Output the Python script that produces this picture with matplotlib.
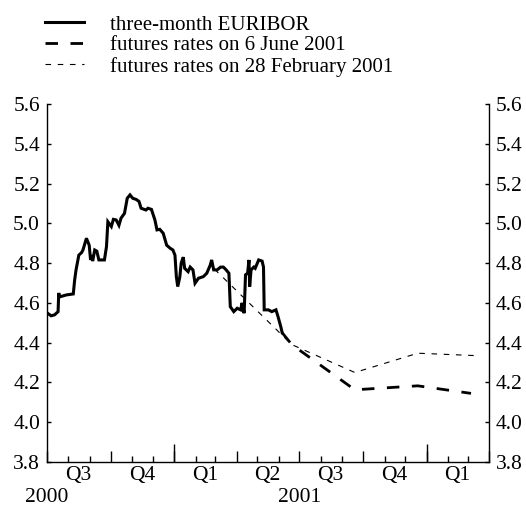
import numpy as np
import pandas as pd
import matplotlib
matplotlib.use("Agg")
import matplotlib.pyplot as plt
import matplotlib.dates as mdates

# three-month EURIBOR
euribor_dates = [
    "2000-07-01", "2000-07-07", "2000-07-12", "2000-07-17", "2000-07-18", "2000-07-19",
    "2000-07-24", "2000-07-29", "2000-08-08", "2000-08-10", "2000-08-12", "2000-08-16",
    "2000-08-20", "2000-08-22", "2000-08-27", "2000-08-31", "2000-09-02", "2000-09-04",
    "2000-09-05", "2000-09-08", "2000-09-11", "2000-09-14", "2000-09-22", "2000-09-25",
    "2000-09-27", "2000-10-02", "2000-10-05", "2000-10-09", "2000-10-13", "2000-10-16",
    "2000-10-21", "2000-10-25", "2000-10-29", "2000-11-02", "2000-11-07", "2000-11-11",
    "2000-11-14", "2000-11-21", "2000-11-24", "2000-11-29", "2000-12-04", "2000-12-07",
    "2000-12-11", "2000-12-16", "2000-12-21", "2000-12-26", "2000-12-30", "2001-01-02",
    "2001-01-04", "2001-01-06", "2001-01-09", "2001-01-11", "2001-01-14", "2001-01-16",
    "2001-01-21", "2001-01-24", "2001-01-28", "2001-01-31", "2001-02-05", "2001-02-12",
    "2001-02-17", "2001-02-22", "2001-02-24", "2001-02-27", "2001-03-04", "2001-03-09",
    "2001-03-13", "2001-03-17", "2001-03-21", "2001-03-23", "2001-03-28", "2001-04-02",
    "2001-04-07", "2001-04-09", "2001-04-12", "2001-04-14", "2001-04-17", "2001-04-19",
    "2001-04-20", "2001-04-22", "2001-04-26", "2001-04-28", "2001-05-03", "2001-05-08",
    "2001-05-10", "2001-05-11", "2001-05-17", "2001-05-22", "2001-05-28", "2001-05-31",
    "2001-06-04", "2001-06-06",
]
euribor_values = [
    4.55, 4.535, 4.54, 4.556, 4.65, 4.63,
    4.635, 4.64, 4.645, 4.716, 4.766, 4.84,
    4.853, 4.866, 4.925, 4.89, 4.816, 4.84,
    4.81, 4.866, 4.86, 4.816, 4.816, 4.883,
    5.008, 4.984, 5.02, 5.017, 4.99, 5.026,
    5.05, 5.126, 5.143, 5.126, 5.12, 5.11,
    5.076, 5.067, 5.076, 5.07, 5.017, 4.967,
    4.97, 4.95, 4.89, 4.875, 4.866, 4.84,
    4.732, 4.682, 4.73, 4.80, 4.83, 4.774,
    4.757, 4.78, 4.766, 4.699, 4.724, 4.732,
    4.749, 4.79, 4.816, 4.766, 4.766, 4.78,
    4.78, 4.766, 4.749, 4.581, 4.556, 4.573,
    4.565, 4.60, 4.548, 4.741, 4.749, 4.816,
    4.682, 4.766, 4.78, 4.774, 4.816, 4.81,
    4.78, 4.565, 4.565, 4.556, 4.565, 4.531,
    4.48, 4.45,
]

# futures-implied rates
june_dates = ["2001-06-06", "2001-06-20", "2001-09-19", "2001-12-19", "2002-03-06"]
june_values = [4.45, 4.39, 4.163, 4.183, 4.145]
feb_dates = ["2001-02-28", "2001-06-20", "2001-09-19", "2001-12-19", "2002-03-12"]
feb_values = [4.77, 4.39, 4.25, 4.347, 4.335]

quarter_mids = ["2000-08-15", "2000-11-15", "2001-02-14", "2001-05-16",
                "2001-08-15", "2001-11-15", "2002-02-14"]
quarter_labels = ["Q3", "Q4", "Q1", "Q2", "Q3", "Q4", "Q1"]
year_mids = ["2000-07-01", "2001-07-01"]
year_labels = ["2000", "2001"]

plt.rcParams["font.family"] = ["Liberation Serif", "DejaVu Serif"]
fs = 15.5

fig = plt.figure(figsize=(5.26, 5.07), dpi=100)
ax = fig.add_axes([47 / 526, 45 / 507, 442 / 526, 358 / 507])

ax.plot(pd.to_datetime(euribor_dates), euribor_values, color="black", lw=2.2,
        solid_joinstyle="miter", label="three-month EURIBOR")
ax.plot(pd.to_datetime(june_dates), june_values, color="black", lw=2.0,
        dashes=(4.5, 4.5), label="futures rates on 6 June 2001")
ax.plot(pd.to_datetime(feb_dates), feb_values, color="black", lw=0.8,
        dashes=(5, 6), label="futures rates on 28 February 2001")

ax.set_xlim(pd.Timestamp("2000-07-01"), pd.Timestamp("2002-04-01"))
ax.set_ylim(3.8, 5.6)
ax.set_yticks(np.arange(3.8, 5.61, 0.2))
ax.yaxis.set_major_formatter(matplotlib.ticker.FormatStrFormatter("%.1f"))

ax.spines["top"].set_visible(False)
for side in ["left", "right", "bottom"]:
    ax.spines[side].set_linewidth(1.0)

ax.tick_params(axis="y", which="both", direction="in", left=True, right=True,
               labelleft=True, labelright=True, length=3, width=1,
               labelsize=fs, pad=5)

# month / quarter ticks
ax.xaxis.set_major_locator(mdates.MonthLocator(bymonth=[1, 4, 7, 10]))
ax.xaxis.set_minor_locator(mdates.MonthLocator())
ax.xaxis.set_major_formatter(matplotlib.ticker.NullFormatter())
ax.tick_params(axis="x", which="major", direction="in", length=8, width=1)
ax.tick_params(axis="x", which="minor", direction="in", length=4, width=1)

# year boundary ticks
sec_year = ax.secondary_xaxis("bottom")
sec_year.set_xticks(pd.to_datetime(["2001-01-01", "2002-01-01"]))
sec_year.tick_params(direction="in", length=13, width=1, labelbottom=False)
sec_year.spines["bottom"].set_visible(False)

# quarter labels
sec_q = ax.secondary_xaxis("bottom")
sec_q.set_xticks(pd.to_datetime(quarter_mids), quarter_labels)
sec_q.tick_params(length=0, pad=3, labelsize=fs)
sec_q.spines["bottom"].set_visible(False)

# year labels
sec_y = ax.secondary_xaxis("bottom")
sec_y.set_xticks(pd.to_datetime(year_mids), year_labels)
sec_y.tick_params(length=0, pad=18.5, labelsize=fs)
sec_y.spines["bottom"].set_visible(False)

fig.legend(loc="upper left", bbox_to_anchor=(45 / 526, 1 - 15 / 507),
           frameon=False, fontsize=15, handlelength=1.85, handletextpad=1.25,
           labelspacing=0.06, borderpad=0, borderaxespad=0)

fig.savefig("out.png", dpi=100)
